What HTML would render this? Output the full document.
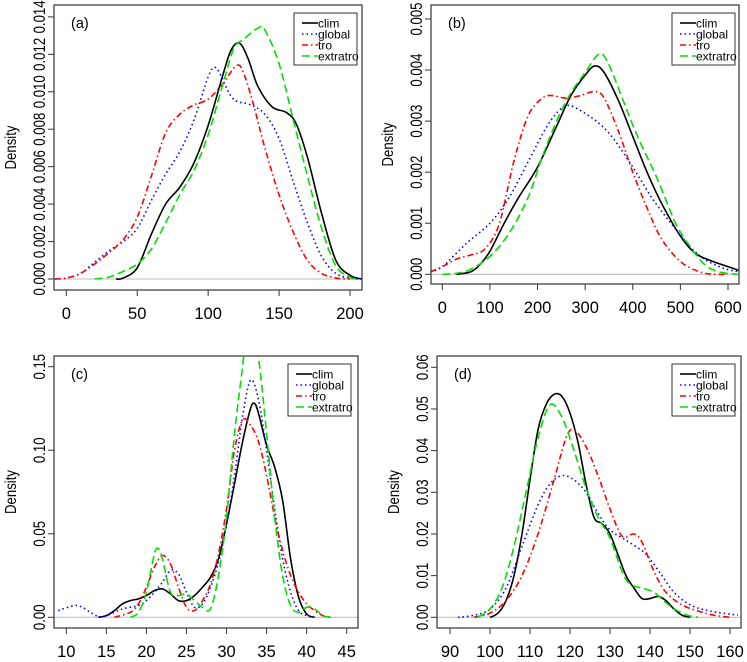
<!DOCTYPE html>
<html><head><meta charset="utf-8"><style>
body{margin:0;background:#fff}
svg{display:block;font-family:"Liberation Sans",Arial,sans-serif}
</style></head><body>
<svg id="chart" width="747" height="662" viewBox="0 0 747 662" xmlns="http://www.w3.org/2000/svg"></svg>
<script>
// ---- data (x, density) ----
const aClim=[[35,0],[40,0.05],[50,0.6],[60,2.4],[70,4.0],[80,4.9],[90,6.2],[100,8.2],[110,10.8],[116,12.2],[122,12.6],[128,11.8],[135,10.3],[145,9.2],[155,8.9],[162,8.3],[170,6.5],[180,3.5],[190,1.0],[200,0.2],[208,0]];
const aGlobal=[[-8,0],[0,0.05],[10,0.3],[20,0.9],[30,1.5],[40,2.0],[50,2.7],[60,4.2],[70,5.6],[80,6.8],[90,8.5],[100,10.8],[105,11.3],[110,10.7],[115,9.9],[120,9.5],[130,9.3],[140,8.8],[150,7.5],[160,5.2],[170,3.0],[180,1.2],[190,0.3],[200,0.05],[208,0]];
const aTro=[[-8,0],[0,0.05],[10,0.3],[20,0.8],[30,1.4],[40,2.1],[50,3.3],[60,5.5],[70,7.8],[80,8.8],[90,9.3],[100,9.6],[110,10.4],[120,11.4],[125,11.0],[132,9.3],[140,7.0],[150,4.5],[160,2.5],[170,1.0],[180,0.3],[190,0.05],[200,0]];
const aExtra=[[20,0],[30,0.1],[40,0.4],[50,0.8],[60,1.6],[70,3.0],[80,4.5],[90,5.8],[100,7.7],[110,10.3],[118,12.3],[125,12.8],[135,13.4],[140,13.3],[150,11.5],[160,8.5],[170,5.5],[180,2.7],[190,0.7],[200,0.1],[205,0]];
const bClim=[[30,0],[60,0.05],[80,0.2],[100,0.45],[130,1.0],[160,1.5],[200,2.1],[240,2.9],[270,3.5],[300,3.9],[320,4.08],[340,3.95],[370,3.4],[400,2.7],[430,2.0],[460,1.4],[500,0.75],[530,0.42],[560,0.28],[600,0.15],[622,0.08]];
const bGlobal=[[-25,0.05],[0,0.15],[50,0.6],[100,1.0],[140,1.5],[180,2.2],[220,2.9],[250,3.25],[270,3.3],[300,3.15],[330,2.95],[360,2.65],[400,2.1],[440,1.5],[480,1.0],[520,0.55],[550,0.3],[590,0.12],[622,0.05]];
const bTro=[[-25,0.05],[0,0.15],[30,0.3],[60,0.38],[90,0.5],[120,1.0],[150,2.2],[180,3.1],[210,3.45],[230,3.5],[260,3.45],[290,3.5],[320,3.58],[340,3.45],[370,2.8],[400,2.0],[430,1.3],[460,0.7],[500,0.25],[540,0.05],[570,0],[600,0]];
const bExtra=[[0,0],[30,0.02],[60,0.1],[100,0.35],[140,0.8],[180,1.5],[210,2.3],[240,3.0],[270,3.55],[300,3.95],[330,4.32],[350,4.1],[380,3.4],[410,2.7],[450,1.9],[490,1.0],[520,0.55],[550,0.2],[580,0.05],[620,0]];
const cClim=[[14,0],[15,0.001],[16,0.004],[17,0.008],[18,0.01],[19,0.011],[20,0.013],[21,0.016],[22,0.017],[23,0.014],[24,0.01],[25,0.01],[26,0.013],[27,0.018],[28,0.024],[29,0.035],[30,0.056],[31,0.08],[32,0.105],[33,0.125],[33.5,0.128],[34,0.122],[35,0.103],[36,0.09],[37,0.07],[38,0.035],[39,0.012],[40,0.002],[41,0]];
const cGlobal=[[9,0.004],[11,0.007],[12,0.006],[13,0.003],[14,0.0005],[15,0.001],[17,0.005],[19,0.007],[20,0.01],[21,0.015],[22,0.021],[23,0.028],[24,0.026],[25,0.015],[26,0.006],[27,0.008],[28,0.018],[29,0.033],[30,0.055],[31,0.085],[32,0.12],[33,0.142],[34,0.13],[35,0.1],[36,0.065],[37,0.035],[38,0.015],[39,0.004],[40,0.001],[41,0]];
const cTro=[[16,0],[18,0.003],[19,0.008],[20,0.018],[21,0.03],[22,0.037],[23,0.032],[24,0.018],[25,0.006],[26,0.004],[27,0.01],[28,0.02],[29,0.038],[30,0.065],[31,0.1],[32,0.118],[33,0.115],[34,0.105],[35,0.085],[36,0.06],[37,0.04],[38,0.025],[39,0.015],[40,0.008],[41,0.004],[42,0.001],[43,0]];
const cExtra=[[18,0],[19,0.003],[20,0.015],[21,0.038],[21.5,0.041],[22,0.035],[23,0.015],[24,0.013],[25,0.014],[26,0.01],[27,0.006],[28,0.005],[29,0.025],[30,0.06],[31,0.11],[32,0.15],[32.5,0.17],[33,0.18],[34,0.155],[35,0.11],[36,0.06],[37,0.025],[38,0.007],[39,0.003],[40,0.006],[41,0.005],[42,0.001],[43,0]];
const dClim=[[100,0],[102,0.001],[104,0.004],[106,0.01],[108,0.02],[110,0.033],[112,0.045],[114,0.051],[116,0.0535],[118,0.053],[120,0.049],[122,0.042],[124,0.032],[126,0.024],[128,0.0225],[130,0.02],[132,0.015],[134,0.01],[136,0.007],[138,0.0045],[140,0.0045],[142,0.005],[144,0.004],[146,0.002],[148,0.0005],[150,0]];
const dGlobal=[[92,0],[96,0.0005],[100,0.002],[104,0.007],[108,0.017],[112,0.027],[115,0.032],[118,0.034],[121,0.033],[124,0.03],[127,0.025],[130,0.021],[134,0.0185],[138,0.016],[140,0.014],[143,0.01],[146,0.006],[150,0.003],[155,0.0015],[162,0.0005]];
const dTro=[[96,0],[100,0.001],[104,0.004],[108,0.01],[112,0.02],[116,0.033],[119,0.043],[121,0.045],[124,0.041],[127,0.034],[130,0.026],[133,0.0195],[136,0.02],[138,0.018],[141,0.011],[144,0.006],[148,0.003],[152,0.0015],[156,0.0005],[160,0]];
const dExtra=[[97,0],[100,0.002],[103,0.007],[106,0.017],[109,0.03],[112,0.043],[115,0.051],[118,0.048],[121,0.04],[124,0.031],[127,0.024],[130,0.019],[133,0.011],[135,0.008],[138,0.007],[141,0.006],[144,0.0035],[147,0.0015],[150,0.0003],[152,0]];
const aXTicks=[0,50,100,150,200];
const aYTicks=["0.000","0.002","0.004","0.006","0.008","0.010","0.012","0.014"];
const bXTicks=[0,100,200,300,400,500,600];
const bYTicks=["0.000","0.001","0.002","0.003","0.004","0.005"];
const cXTicks=[10,15,20,25,30,35,40,45];
const cYTicks=["0.00","0.05","0.10","0.15"];
const dXTicks=[90,100,110,120,130,140,150,160];
const dYTicks=["0.00","0.01","0.02","0.03","0.04","0.05","0.06"];
const seriesNames=["clim","global","tro","extratro"];

const NS="http://www.w3.org/2000/svg";
const svg=document.getElementById('chart');
const styles=[{c:"#000",d:""},{c:"#0000ff",d:"1.5,3"},{c:"#ff0000",d:"6,3,1.5,3"},{c:"#00e000",d:"8,4"}];
function mk(t,p,a){const e=document.createElementNS(NS,t);for(const k in a)e.setAttribute(k,a[k]);p.appendChild(e);return e;}
function smooth(pts){let d="M"+pts[0][0].toFixed(2)+","+pts[0][1].toFixed(2);
 for(let i=0;i<pts.length-1;i++){const p0=pts[Math.max(i-1,0)],p1=pts[i],p2=pts[i+1],p3=pts[Math.min(i+2,pts.length-1)];
  const c1=[p1[0]+(p2[0]-p0[0])/6,p1[1]+(p2[1]-p0[1])/6],c2=[p2[0]-(p3[0]-p1[0])/6,p2[1]-(p3[1]-p1[1])/6];
  d+="C"+c1.map(v=>v.toFixed(2))+" "+c2.map(v=>v.toFixed(2))+" "+p2.map(v=>v.toFixed(2));}
 return d;}
function panel(cfg){
 const g=mk('g',svg,{});
 
 
 const X=v=>cfg.x0px+(v-cfg.x0)*(cfg.x1px-cfg.x0px)/(cfg.x1-cfg.x0);
 const Y=v=>cfg.y0px-(v)*(cfg.y0px-cfg.y1px)/cfg.ymax;
 const clip=mk('clipPath',g,{id:'clip'+cfg.id});
 mk('rect',clip,{x:cfg.L,y:cfg.T,width:cfg.R-cfg.L,height:cfg.B-cfg.T});
 const zl=mk('line',g,{x1:cfg.L,x2:cfg.R,y1:Y(0),y2:Y(0),stroke:"#bbb","stroke-width":1});
 
 
 cfg.series.forEach((s,i)=>{
  const p=mk('path',g,{d:smooth(s.map(q=>[X(q[0]),Y(cfg.scale*q[1])])),fill:"none",stroke:styles[i].c,"stroke-width":1.6,"stroke-dasharray":styles[i].d,"clip-path":"url(#clip"+cfg.id+")"});
  
  
 });
 const box=mk('rect',g,{x:cfg.L,y:cfg.T,width:cfg.R-cfg.L,height:cfg.B-cfg.T,fill:"none",stroke:"#333","stroke-width":1.2});
 
 
 cfg.xt.forEach(v=>{
  mk('line',g,{x1:X(v),x2:X(v),y1:cfg.B,y2:cfg.B+6,stroke:"#333","stroke-width":1});
  const t=mk('text',g,{x:X(v),y:cfg.B+29,"text-anchor":"middle","font-size":16.5});
  t.textContent=v;
  
  
 });
 cfg.yt.forEach(s=>{
  const v=parseFloat(s),y=Y(v);
  mk('line',g,{x1:cfg.L-6,x2:cfg.L,y1:y,y2:y,stroke:"#333","stroke-width":1});
  const t=mk('text',g,{x:0,y:0,"text-anchor":"middle","font-size":16.5,transform:"translate("+(cfg.L-9)+","+y+") rotate(-90) scale(0.8,1)"});
  t.textContent=s;
  
  
 });
 const yl=mk('text',g,{x:0,y:0,"text-anchor":"middle","font-size":15.5,transform:"translate("+(cfg.L-38)+","+((cfg.T+cfg.B)/2)+") rotate(-90) scale(0.85,1)"});
 yl.textContent="Density";
 
 
 const lab=mk('text',g,{x:cfg.L+17,y:cfg.T+23,"font-size":14.5});
 lab.textContent="("+cfg.id+")";
 
 
 const lg=mk('g',g,{});
 
 
 mk('rect',lg,{x:cfg.lx,y:cfg.ly,width:63,height:52,fill:"#fff",stroke:"#333","stroke-width":1});
 seriesNames.forEach((n,i)=>{
  const yy=cfg.ly+10+i*11;
  mk('line',lg,{x1:cfg.lx+8,x2:cfg.lx+24,y1:yy,y2:yy,stroke:styles[i].c,"stroke-width":1.6,"stroke-dasharray":styles[i].d});
  const t=mk('text',lg,{x:cfg.lx+24,y:yy+4.5,"font-size":12});
  t.textContent=n;
  
  
 });
}
panel({id:"a",L:54,R:362,T:5,B:290,x0:0,x1:200,x0px:66.3,x1px:350,y0px:279,y1px:16.9,ymax:0.014,scale:0.001,series:[aClim,aGlobal,aTro,aExtra],xt:aXTicks,yt:aYTicks,lx:294,ly:13});
panel({id:"b",L:431,R:739,T:5,B:284,x0:0,x1:600,x0px:442.3,x1px:728,y0px:274.3,y1px:19,ymax:0.005,scale:0.001,series:[bClim,bGlobal,bTro,bExtra],xt:bXTicks,yt:bYTicks,lx:672,ly:13});
panel({id:"c",L:54,R:358,T:356,B:628,x0:10,x1:45,x0px:66.3,x1px:346.7,y0px:617.3,y1px:366.7,ymax:0.15,scale:1,series:[cClim,cGlobal,cTro,cExtra],xt:cXTicks,yt:cYTicks,lx:288,ly:364});
panel({id:"d",L:437,R:741,T:356,B:628,x0:90,x1:160,x0px:450,x1px:730,y0px:617.3,y1px:367.3,ymax:0.06,scale:1,series:[dClim,dGlobal,dTro,dExtra],xt:dXTicks,yt:dYTicks,lx:672,ly:364});
</script>
</body></html>
